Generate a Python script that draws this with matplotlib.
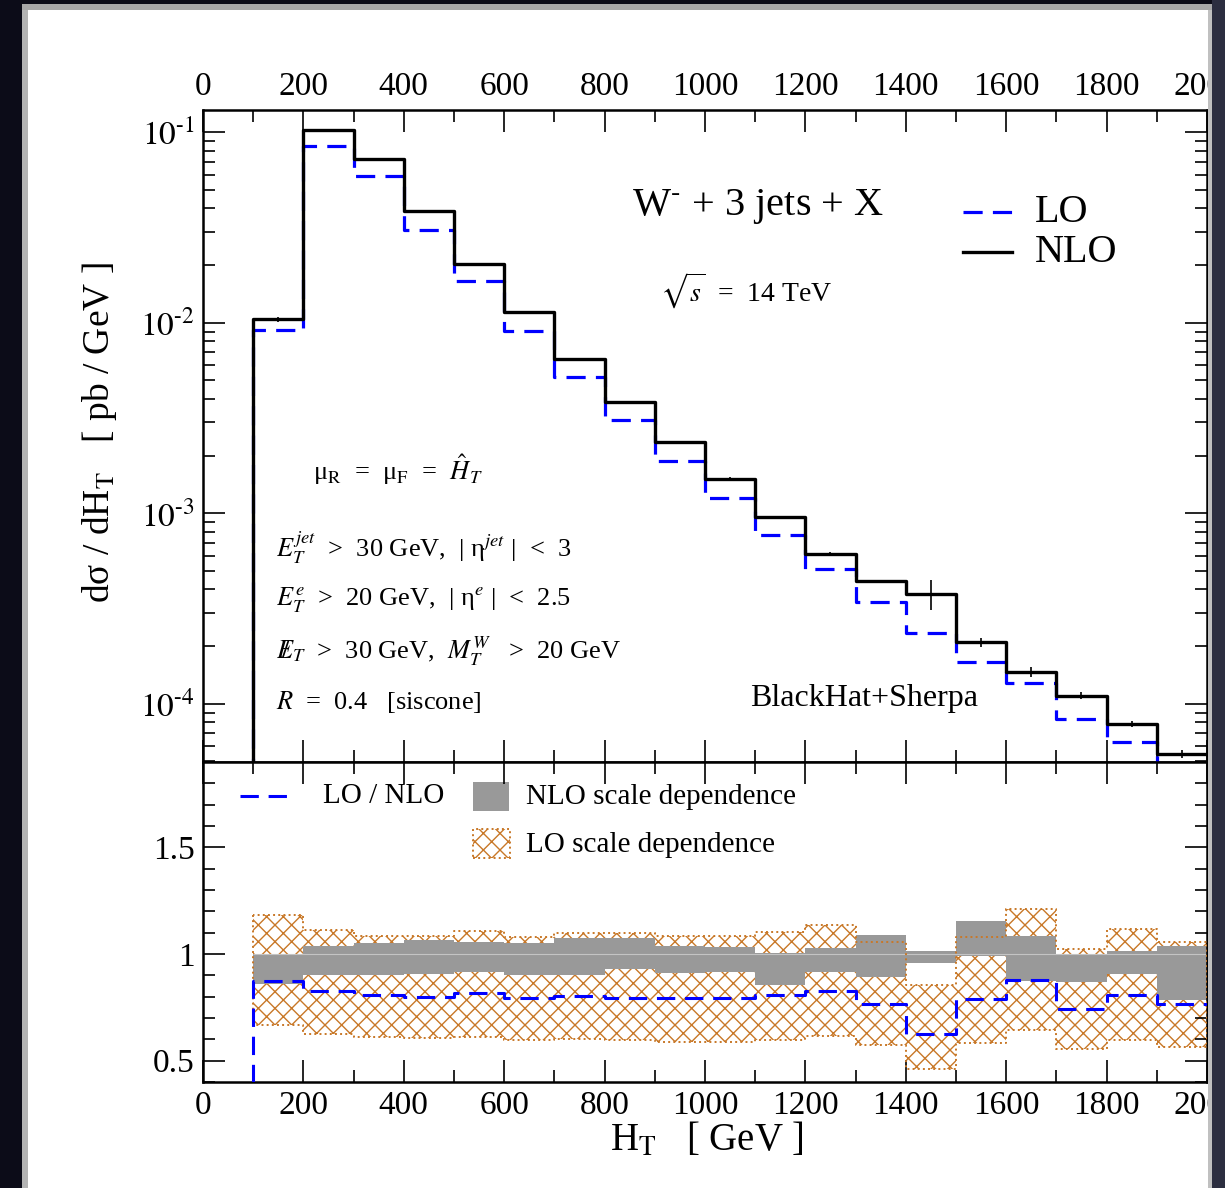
import numpy as np
import matplotlib
matplotlib.use("Agg")
import matplotlib.pyplot as plt
from matplotlib.patches import Rectangle
from matplotlib.ticker import MultipleLocator, LogLocator, NullFormatter, FixedLocator, FuncFormatter

# ---------------- data ----------------
bin_edges = np.arange(100, 2001, 100)  # H_T bins [GeV]
nlo = [0.01044, 0.1028, 0.0726, 0.0386, 0.02025, 0.01137, 0.00644, 0.00384, 0.002378,
       0.001520, 0.000952, 0.000613, 0.000440, 0.000378, 0.000210, 0.0001464, 0.0001104,
       0.0000784, 0.0000545]
lo = [0.00922, 0.0850, 0.0587, 0.0309, 0.01654, 0.00911, 0.00518, 0.00308, 0.00189,
      0.001202, 0.000765, 0.000511, 0.000342, 0.000235, 0.0001652, 0.0001288, 0.0000829,
      0.0000628, 0.0000417]
nlo_rel_err = [0.03, 0.008, 0.008, 0.008, 0.008, 0.008, 0.01, 0.01, 0.012, 0.015, 0.015,
               0.02, 0.02, 0.18, 0.05, 0.06, 0.04, 0.035, 0.045]

ratio_lo_nlo = [0.875, 0.826, 0.807, 0.799, 0.818, 0.796, 0.803, 0.796, 0.796, 0.795,
                0.806, 0.827, 0.768, 0.623, 0.787, 0.878, 0.743, 0.807, 0.765]
nlo_band_hi = [1.000, 1.038, 1.053, 1.066, 1.058, 1.053, 1.074, 1.074, 1.038, 1.034,
               1.006, 1.027, 1.089, 1.016, 1.157, 1.086, 0.998, 1.014, 1.039]
nlo_band_lo = [0.859, 0.901, 0.901, 0.904, 0.914, 0.901, 0.901, 0.928, 0.909, 0.917,
               0.854, 0.917, 0.893, 0.956, 0.992, 0.875, 0.867, 0.904, 0.784]
lo_band_hi = [1.183, 1.113, 1.086, 1.086, 1.110, 1.082, 1.100, 1.100, 1.086, 1.086,
              1.105, 1.136, 1.058, 0.854, 1.081, 1.212, 1.024, 1.118, 1.055]
lo_band_lo = [0.666, 0.627, 0.611, 0.607, 0.611, 0.596, 0.603, 0.596, 0.588, 0.588,
              0.596, 0.614, 0.572, 0.463, 0.582, 0.646, 0.553, 0.599, 0.565]

x_ticks_major = [0, 200, 400, 600, 800, 1000, 1200, 1400, 1600, 1800, 2000]
ratio_ticks = [0.5, 1.0, 1.5]

# ---------------- style ----------------
plt.rcParams.update({
    "font.family": ["Liberation Serif", "DejaVu Serif"],
    "mathtext.fontset": "stix",
    "hatch.linewidth": 1.0,
    "axes.linewidth": 1.8,
})
BLUE = "#0000ff"
ORANGE = "#c87828"
GRAY = "#999999"

fig = plt.figure(figsize=(12.25, 11.88), dpi=100, facecolor="white")
ax1 = fig.add_axes([0.1657, 0.3586, 0.8196, 0.5488])
ax2 = fig.add_axes([0.1657, 0.0892, 0.8196, 0.2694])

nlo_a = np.asarray(nlo)
lo_a = np.asarray(lo)
centers = 0.5 * (bin_edges[:-1] + bin_edges[1:])
x_step = np.r_[bin_edges[0], bin_edges]


def step_y(vals, floor):
    vals = np.asarray(vals)
    return np.r_[floor, vals, vals[-1]]


# ---------------- top panel ----------------
ax1.plot(x_step, step_y(lo_a, 1e-7), drawstyle="steps-post", color=BLUE, lw=2.3,
         dashes=(6, 3.2), zorder=3)
ax1.plot(x_step, step_y(nlo_a, 1e-7), drawstyle="steps-post", color="black", lw=2.4, zorder=4)
ax1.errorbar(centers, nlo_a, yerr=nlo_a * np.asarray(nlo_rel_err), fmt="none",
             ecolor="black", elinewidth=1.2, capsize=0, zorder=4)

ax1.set_yscale("log")
ax1.set_ylim(4.95e-5, 0.131)
ax1.yaxis.set_major_locator(LogLocator(base=10))
ax1.yaxis.set_minor_locator(LogLocator(base=10, subs=np.arange(2, 10)))
ax1.yaxis.set_minor_formatter(NullFormatter())
ax1.yaxis.set_major_formatter(FuncFormatter(lambda v, p: r"$10^{\text{-}%d}$" % abs(int(round(np.log10(v))))))

# ---------------- ratio panel ----------------
def band_y(vals):
    vals = np.asarray(vals)
    return np.r_[vals, vals[-1]]

ax2.fill_between(bin_edges, band_y(lo_band_lo), band_y(lo_band_hi), step="post",
                 facecolor="none", edgecolor=ORANGE, hatch="xx", linewidth=0, zorder=1)
ax2.fill_between(bin_edges, band_y(nlo_band_lo), band_y(nlo_band_hi), step="post",
                 facecolor=GRAY, edgecolor="none", linewidth=0, zorder=2)
ax2.hlines(1.0, bin_edges[0], bin_edges[-1], color="#c4c4c4", lw=0.8, zorder=2.5)
ax2.fill_between(bin_edges, band_y(lo_band_lo), band_y(lo_band_hi), step="post",
                 facecolor="none", edgecolor=ORANGE, linestyle=":", linewidth=1.4, zorder=3)
ax2.plot(x_step, step_y(ratio_lo_nlo, 0.0), drawstyle="steps-post", color=BLUE, lw=2.2,
         dashes=(6, 3.2), zorder=4)

ax2.set_ylim(0.4, 1.9)
ax2.yaxis.set_major_locator(FixedLocator(ratio_ticks))
ax2.yaxis.set_minor_locator(MultipleLocator(0.1))
ax2.yaxis.set_major_formatter(FuncFormatter(lambda v, p: "%g" % v))

for ax in (ax1, ax2):
    ax.set_xlim(0, 2000)
    ax.xaxis.set_major_locator(FixedLocator(x_ticks_major))
    ax.xaxis.set_minor_locator(MultipleLocator(100))
    ax.xaxis.set_major_formatter(FuncFormatter(lambda v, p: "%d" % v))
    ax.tick_params(which="both", direction="in", top=True, right=True, width=1.2,
                   labelsize=24, pad=6)
    ax.tick_params(which="major", length=16)
    ax.tick_params(which="minor", length=8.5)
    for s in ax.spines.values():
        s.set_linewidth(1.8)

ax1.tick_params(axis="x", which="both", labeltop=True, labelbottom=False)
ax2.tick_params(axis="x", which="both", labeltop=False, labelbottom=True)

# ---------------- annotations top panel ----------------
t1 = ax1.transAxes
ax1.text(0.427, 0.852, r"W$^{\text{-}}$ + 3 jets + X", transform=t1, fontsize=29, ha="left", va="center")
ax1.text(0.455, 0.722, r"$\sqrt{s}$  =  14 TeV", transform=t1, fontsize=20, ha="left", va="center")
ax1.plot([0.757, 0.806], [0.843, 0.843], transform=t1, color=BLUE, lw=2.3, dashes=(6, 3.2))
ax1.text(0.829, 0.843, "LO", transform=t1, fontsize=29, ha="left", va="center")
ax1.plot([0.757, 0.806], [0.782, 0.782], transform=t1, color="black", lw=2.4)
ax1.text(0.829, 0.782, "NLO", transform=t1, fontsize=29, ha="left", va="center")

ax1.text(0.110, 0.448, r"μ$_{\rm R}$  =  μ$_{\rm F}$  =  $\hat{H}_T$", transform=t1,
         fontsize=19, ha="left", va="center")
ax1.text(0.0727, 0.328, r"$E_T^{jet}$  >  30 GeV,  | η$^{jet}$ |  <  3", transform=t1,
         fontsize=19, ha="left", va="center")
ax1.text(0.0727, 0.248, r"$E_T^{e}$  >  20 GeV,  | η$^{e}$ |  <  2.5", transform=t1,
         fontsize=19, ha="left", va="center")
ax1.text(0.0727, 0.170, r"$/\!\!\!\!E_T$  >  30 GeV,  $M_T^W$   >  20 GeV", transform=t1,
         fontsize=19, ha="left", va="center")
ax1.text(0.0727, 0.092, r"$R$  =  0.4   [siscone]", transform=t1,
         fontsize=19, ha="left", va="center")
ax1.text(0.545, 0.098, "BlackHat+Sherpa", transform=t1, fontsize=23, ha="left", va="center")

# ---------------- legend ratio panel ----------------
t2 = ax2.transAxes
ax2.plot([0.037, 0.085], [0.894, 0.894], transform=t2, color=BLUE, lw=2.2, dashes=(6, 3.2))
ax2.text(0.1195, 0.894, "LO / NLO", transform=t2, fontsize=21, ha="left", va="center")
ax2.add_patch(Rectangle((0.269, 0.847), 0.036, 0.091, transform=t2, facecolor=GRAY,
                        edgecolor="none"))
ax2.text(0.322, 0.891, "NLO scale dependence", transform=t2, fontsize=21, ha="left", va="center")
ax2.add_patch(Rectangle((0.269, 0.700), 0.037, 0.090, transform=t2, facecolor="none",
                        edgecolor=ORANGE, hatch="xx", linewidth=0))
ax2.add_patch(Rectangle((0.269, 0.700), 0.037, 0.090, transform=t2, facecolor="none",
                        edgecolor=ORANGE, linestyle=":", linewidth=1.4))
ax2.text(0.322, 0.741, "LO scale dependence", transform=t2, fontsize=21, ha="left", va="center")

# axis titles
fig.text(0.0816, 0.636, r"dσ / dH$_{\rm T}$   [ pb / GeV ]", rotation=90, fontsize=27,
         ha="center", va="center")
fig.text(0.577, 0.040, r"H$_{\rm T}$   [ GeV ]", fontsize=28, ha="center", va="center")

# ---------------- dark screenshot frame ----------------
W, H = 1225.0, 1188.0
def frame_rect(x0, y0, x1, y1, color):
    fig.add_artist(Rectangle((x0 / W, 1 - y1 / H), (x1 - x0) / W, (y1 - y0) / H,
                             transform=fig.transFigure, facecolor=color, edgecolor="none",
                             zorder=20))

frame_rect(0, 0, 22, H, "#0c0c18")
frame_rect(22, 10, 28, H, "#b4b4b4")
frame_rect(0, 0, W, 4, "#0c0c18")
frame_rect(22, 4, 1212, 10, "#a8a8a8")
frame_rect(1208, 10, 1212, H, "#c0c0c0")
frame_rect(1212, 0, W, H, "#2c2e40")

fig.savefig("out.png", dpi=100, facecolor=fig.get_facecolor())
